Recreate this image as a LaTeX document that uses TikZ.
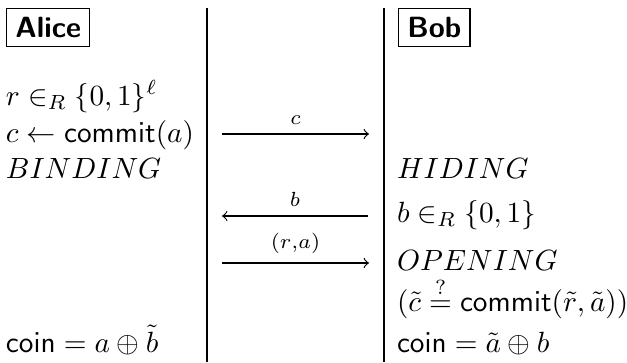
\documentclass[tikz,border=0pt]{standalone}
\usepackage{amsmath}
\begin{document}
\begin{tikzpicture}[x=0.342pt,y=-0.342pt,
  txt/.style={anchor=base west, inner sep=0pt, outer sep=0pt},
  party/.style={draw, line width=0.4pt, inner sep=3pt, anchor=north west, font=\sffamily\bfseries},
  msg/.style={-to, line width=0.4pt},
  msglbl/.style={above=3pt, inner sep=0pt, font=\scriptsize},
  rule/.style={line width=0.35pt}]
\useasboundingbox (0,0) rectangle (627,362);
% column rules
\coordinate (l1) at (207,8);
\coordinate (l2) at (207,362);
\coordinate (r1) at (384,8);
\coordinate (r2) at (384,362);
\draw[rule] (l1) -- (l2);
\draw[rule] (r1) -- (r2);
% headers
\node[party] (alice) at (6,8) {Alice};
\node[party] (bob) at (398,8) {Bob};
% Alice column
\node[txt] (a1) at (6,105) {$r \in_R \{0,1\}^\ell$};
\node[txt] (a2) at (6,142) {$c \leftarrow \mathsf{commit}(a)$};
\node[txt] (a3) at (6,178) {$BINDING$};
\node[txt] (a4) at (6,352) {$\mathsf{coin} = a \oplus \tilde b$};
% Bob column
\node[txt] (b1) at (397,178) {$HIDING$};
\node[txt] (b2) at (397,222) {$b \in_R \{0,1\}$};
\node[txt] (b3) at (397,270) {$OPENING$};
\node[txt] (b4) at (397,311) {$(\tilde c \stackrel{?}{=} \mathsf{commit}(\tilde r, \tilde a))$};
\node[txt] (b5) at (397,352) {$\mathsf{coin} = \tilde a \oplus b$};
% messages
\coordinate (m1s) at (222,134);
\coordinate (m1e) at (369,134);
\coordinate (m2s) at (368,216);
\coordinate (m2e) at (222,216);
\coordinate (m3s) at (222,263);
\coordinate (m3e) at (369,263);
\draw[msg] (m1s) -- (m1e) node[msglbl, midway] (lc) {$c$};
\draw[msg] (m2s) -- (m2e) node[msglbl, midway] (lb) {$b$};
\draw[msg] (m3s) -- (m3e) node[msglbl, midway] (lra) {$(r{,}a)$};
\end{tikzpicture}
\end{document}
